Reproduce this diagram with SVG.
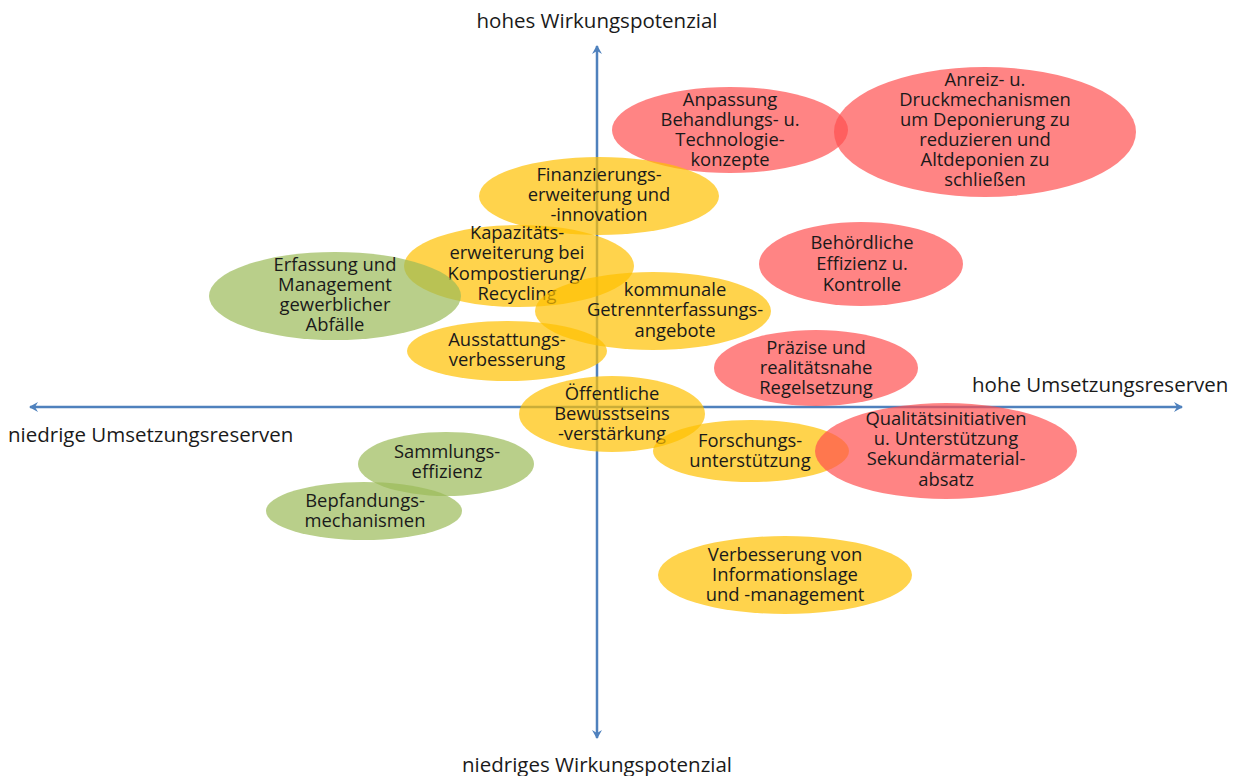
<svg xmlns="http://www.w3.org/2000/svg" width="1240" height="776" viewBox="0 0 1240 776">
<defs>
<marker id="ah" markerWidth="10" markerHeight="10" refX="8" refY="5" orient="auto" markerUnits="userSpaceOnUse">
<path d="M0,0 L9,5 L0,10 L3,5 Z" fill="#4F81BD"/>
</marker>
<style>
.y{fill:#FFC000;fill-opacity:0.7}
.r{fill:#FF5050;fill-opacity:0.7}
.g{fill:#9BBB59;fill-opacity:0.7}
.t{font-family:"Open Sans","Noto Sans","Liberation Sans",sans-serif;font-size:18.4px;fill:#1a1a1a;text-anchor:middle}
.ax{font-family:"Open Sans","Noto Sans","Liberation Sans",sans-serif;font-size:20.5px;fill:#1a1a1a}
.axis{stroke:#4F81BD;stroke-width:2.5;fill:none}
</style>
</defs>
<rect width="1240" height="776" fill="#fff"/>
<g id="connectors">
<line class="axis" x1="597" y1="407" x2="597" y2="46" marker-end="url(#ah)"/>
<line class="axis" x1="597" y1="407" x2="597" y2="738" marker-end="url(#ah)"/>
<line class="axis" x1="597" y1="407" x2="1182" y2="407" marker-end="url(#ah)"/>
<line class="axis" x1="597" y1="407" x2="30" y2="407" marker-end="url(#ah)"/>
</g>
<g id="labels">
<text class="ax" x="597" y="28" text-anchor="middle">hohes Wirkungspotenzial</text>
<text class="ax" x="597" y="772" text-anchor="middle">niedriges Wirkungspotenzial</text>
<text class="ax" x="972" y="392">hohe Umsetzungsreserven</text>
<text class="ax" x="8" y="442">niedrige Umsetzungsreserven</text>
</g>
<g id="n-anpassung"><ellipse class="r" cx="730" cy="130" rx="118" ry="43"/>
<text class="t"><tspan x="730" y="106">Anpassung</tspan><tspan x="730" y="126">Behandlungs- u.</tspan><tspan x="730" y="146">Technologie-</tspan><tspan x="730" y="166">konzepte</tspan></text></g>
<g id="n-anreiz"><ellipse class="r" cx="985" cy="132" rx="151" ry="65"/>
<text class="t"><tspan x="985" y="86">Anreiz- u.</tspan><tspan x="985" y="106">Druckmechanismen</tspan><tspan x="985" y="126">um Deponierung zu</tspan><tspan x="985" y="146">reduzieren und</tspan><tspan x="985" y="166">Altdeponien zu</tspan><tspan x="985" y="186">schließen</tspan></text></g>
<g id="n-finanz"><ellipse class="y" cx="599" cy="196" rx="120" ry="39"/>
<text class="t"><tspan x="599" y="181">Finanzierungs-</tspan><tspan x="599" y="201">erweiterung und</tspan><tspan x="599" y="221">-innovation</tspan></text></g>
<g id="n-kapaz"><ellipse class="y" cx="519" cy="266" rx="115" ry="41"/>
<text class="t"><tspan x="517" y="239">Kapazitäts-</tspan><tspan x="517" y="259">erweiterung bei</tspan><tspan x="517" y="280">Kompostierung/</tspan><tspan x="517" y="300">Recycling</tspan></text></g>
<g id="n-erfassung"><ellipse class="g" cx="335" cy="296" rx="126" ry="44"/>
<text class="t"><tspan x="335" y="271">Erfassung und</tspan><tspan x="335" y="291">Management</tspan><tspan x="335" y="311">gewerblicher</tspan><tspan x="335" y="331">Abfälle</tspan></text></g>
<g id="n-behoerd"><ellipse class="r" cx="861" cy="264" rx="102" ry="42"/>
<text class="t"><tspan x="862" y="249">Behördliche</tspan><tspan x="862" y="270">Effizienz u.</tspan><tspan x="862" y="291">Kontrolle</tspan></text></g>
<g id="n-kommunal"><ellipse class="y" cx="653" cy="311" rx="118" ry="39"/>
<text class="t"><tspan x="675" y="296">kommunale</tspan><tspan x="675" y="316">Getrennterfassungs-</tspan><tspan x="675" y="337">angebote</tspan></text></g>
<g id="n-ausstatt"><ellipse class="y" cx="507" cy="351" rx="100" ry="30"/>
<text class="t"><tspan x="507" y="346">Ausstattungs-</tspan><tspan x="507" y="366">verbesserung</tspan></text></g>
<g id="n-praezise"><ellipse class="r" cx="816" cy="368" rx="102" ry="38"/>
<text class="t"><tspan x="816" y="354">Präzise und</tspan><tspan x="816" y="374">realitätsnahe</tspan><tspan x="816" y="394">Regelsetzung</tspan></text></g>
<g id="n-oeffentl"><ellipse class="y" cx="612" cy="414" rx="93" ry="38"/>
<text class="t"><tspan x="612" y="400">Öffentliche</tspan><tspan x="612" y="420">Bewusstseins</tspan><tspan x="612" y="440">-verstärkung</tspan></text></g>
<g id="n-forschung"><ellipse class="y" cx="751" cy="451" rx="98" ry="31"/>
<text class="t"><tspan x="750" y="447">Forschungs-</tspan><tspan x="750" y="467">unterstützung</tspan></text></g>
<g id="n-qualitaet"><ellipse class="r" cx="946" cy="451" rx="131" ry="48"/>
<text class="t"><tspan x="946" y="425">Qualitätsinitiativen</tspan><tspan x="946" y="445">u. Unterstützung</tspan><tspan x="946" y="465">Sekundärmaterial-</tspan><tspan x="946" y="486">absatz</tspan></text></g>
<g id="n-sammlung"><ellipse class="g" cx="446" cy="464" rx="88" ry="32"/>
<text class="t"><tspan x="447" y="458">Sammlungs-</tspan><tspan x="447" y="478">effizienz</tspan></text></g>
<g id="n-bepfand"><ellipse class="g" cx="364" cy="511" rx="98" ry="29"/>
<text class="t"><tspan x="365" y="507">Bepfandungs-</tspan><tspan x="365" y="527">mechanismen</tspan></text></g>
<g id="n-verbesser"><ellipse class="y" cx="785" cy="575" rx="127" ry="39"/>
<text class="t"><tspan x="785" y="561">Verbesserung von</tspan><tspan x="785" y="581">Informationslage</tspan><tspan x="785" y="601">und -management</tspan></text></g>
</svg>
